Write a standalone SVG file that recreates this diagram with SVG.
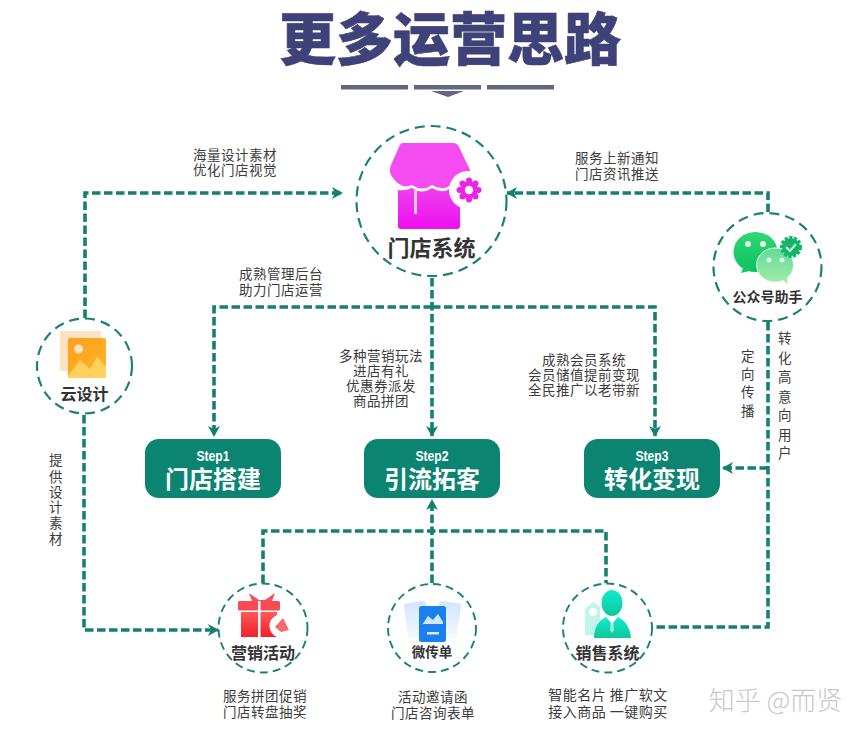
<svg xmlns="http://www.w3.org/2000/svg" width="865" height="736" viewBox="0 0 865 736">
<style>
text{font-family:"Noto Sans CJK SC","Noto Sans",sans-serif;fill:#3c3c3c}
.lb{font-size:13.5px;text-anchor:middle;letter-spacing:.5px}
.nm{font-weight:700;text-anchor:middle;fill:#333}
.ring{fill:#fff;stroke:#1c8270;stroke-width:2.2;stroke-dasharray:10 6}
.ring2{fill:#fff;stroke:#1c8270;stroke-width:1.9;stroke-dasharray:8 5}
.cn{fill:none;stroke:#158070;stroke-width:3.6;stroke-dasharray:8.5 3.5}
.box{fill:#0b8471}
.st{font-family:"Liberation Sans",sans-serif;font-weight:700;font-size:15px;fill:#fff;text-anchor:middle}
.bt{font-weight:700;font-size:24px;fill:#fff;text-anchor:middle}
</style>
<defs>
<marker id="a" markerUnits="userSpaceOnUse" markerWidth="14" markerHeight="14" refX="10" refY="6" orient="auto"><path d="M0 0L11 6L0 12L3 6Z" fill="#158070"/></marker>
<linearGradient id="gm" x1="0" y1="0" x2="0" y2="1"><stop offset="0" stop-color="#f040ee"/><stop offset="1" stop-color="#ee0ff0"/></linearGradient>
<linearGradient id="gg" x1="0" y1="0" x2="0" y2="1"><stop offset="0" stop-color="#2fd874"/><stop offset="1" stop-color="#0cc060"/></linearGradient>
<linearGradient id="gg2" x1="0" y1="0" x2="0" y2="1"><stop offset="0" stop-color="#5fdc96"/><stop offset="1" stop-color="#a0eaa8"/></linearGradient>
<linearGradient id="gt" x1="0" y1="0" x2="0" y2="1"><stop offset="0" stop-color="#10eccf"/><stop offset="1" stop-color="#10c79a"/></linearGradient>
<linearGradient id="go" x1="0" y1="0" x2="1" y2="1"><stop offset="0" stop-color="#ff9f1a"/><stop offset="1" stop-color="#ffb52e"/></linearGradient>
<linearGradient id="gr" x1="0" y1="0" x2="0" y2="1"><stop offset="0" stop-color="#fb5a5c"/><stop offset="1" stop-color="#f3202c"/></linearGradient>
<linearGradient id="gb" x1="0" y1="0" x2="0" y2="1"><stop offset="0" stop-color="#d4e6fb"/><stop offset="1" stop-color="#f4f9fe"/></linearGradient>
</defs>
<rect width="865" height="736" fill="#fff"/>
<g id="title">
<text x="450" y="60" text-anchor="middle" font-size="57" font-weight="900" style="fill:#3f4279;stroke:#3f4279;stroke-width:.6">更多运营思路</text>
<rect x="341" y="85" width="67" height="4.500" fill="#62667f"/>
<rect x="414" y="85" width="67" height="4.500" fill="#62667f"/>
<rect x="487" y="85" width="67" height="4.500" fill="#62667f"/>
<path d="M431 91H464L448 97Z" fill="#62667f"/>
</g>
<g id="connectors">
<path class="cn" d="M85 318V193H342" marker-end="url(#a)"/>
<path class="cn" d="M768 212V193H507" marker-end="url(#a)"/>
<path class="cn" d="M432 278V436" marker-end="url(#a)"/>
<path class="cn" d="M432 307H214V436" marker-end="url(#a)"/>
<path class="cn" d="M432 307H655V436" marker-end="url(#a)"/>
<path class="cn" d="M84 415V630H218" marker-end="url(#a)"/>
<path class="cn" d="M768 322V627H652"/>
<path class="cn" d="M768 468H723" marker-end="url(#a)"/>
<path class="cn" d="M263 583V531H606V583"/>
<path class="cn" d="M432 583V500" marker-end="url(#a)"/>
</g>
<g id="store">
<circle class="ring" cx="431.500" cy="201" r="75"/>
<path d="M403 143H453Q457 143 459 147L470 170V181Q460 190 452 184Q443 192 432 185Q422 192 412 185Q402 190 393 178Q388 172 391 165L399 147Q400 143 403 143Z" fill="#f44cf0"/>
<path d="M398 190Q406 191 412 188Q422 195 432 188Q443 195 452 187L460 190V226Q460 229 457 229H401Q398 229 398 226Z" fill="url(#gm)"/>
<rect x="414" y="190" width="3" height="24" fill="#fbc8f8"/>
<circle cx="468" cy="190" r="19" fill="#fff"/>
<g fill="#ee22e8"><circle cx="469" cy="190" r="9"/><circle cx="469" cy="180.500" r="3"/><circle cx="469" cy="199.500" r="3"/><circle cx="459.500" cy="190" r="3"/><circle cx="478.500" cy="190" r="3"/><circle cx="462.500" cy="183.500" r="3"/><circle cx="475.500" cy="183.500" r="3"/><circle cx="462.500" cy="196.500" r="3"/><circle cx="475.500" cy="196.500" r="3"/></g>
<circle cx="469" cy="190" r="4.200" fill="#fff"/>
<text class="nm" x="431.500" y="256" font-size="22">门店系统</text>
</g>
<g id="gzh">
<circle class="ring" cx="767.500" cy="267" r="54"/>
<ellipse cx="755.500" cy="252" rx="22" ry="20" fill="url(#gg)"/>
<path d="M744 266L741 273L754 270Z" fill="#16c665"/>
<ellipse cx="775" cy="265" rx="18.500" ry="17" fill="url(#gg2)" stroke="#e4f8ea" stroke-width="1"/>
<path d="M782 279L788 284L786 274Z" fill="#9de9a8"/>
<circle cx="748" cy="244" r="3" fill="#dff8e8"/><circle cx="763" cy="244" r="3" fill="#dff8e8"/>
<circle cx="769" cy="260" r="2.500" fill="#dff8e8"/><circle cx="782" cy="260" r="2.500" fill="#dff8e8"/>
<circle cx="791" cy="247" r="9" fill="#12b666" stroke="#12b666" stroke-width="4" stroke-dasharray="3 1.500"/>
<path d="M786 247L790 251L796 244" fill="none" stroke="#d8f5e0" stroke-width="2"/>
<text class="nm" x="767.500" y="302" font-size="14">公众号助手</text>
</g>
<g id="yun">
<circle class="ring" cx="84.500" cy="366" r="47.500"/>
<rect x="60" y="331" width="41" height="40" fill="#fde3c4"/>
<rect x="68" y="338" width="38" height="40" rx="2" fill="url(#go)"/>
<circle cx="78.500" cy="349" r="4.500" fill="#fde3c4"/>
<path d="M68 376L80 360L90 369L97 357L106 367V376Q106 378 104 378H70Q68 378 68 376Z" fill="#ffd15c"/>
<text class="nm" x="84.500" y="400" font-size="16">云设计</text>
</g>
<g id="step1"><rect class="box" x="145" y="439" width="136" height="59" rx="14"/><text class="st" x="213" y="461" textLength="33" lengthAdjust="spacingAndGlyphs">Step1</text><text class="bt" x="213" y="488">门店搭建</text></g>
<g id="step2"><rect class="box" x="364" y="439" width="136" height="59" rx="14"/><text class="st" x="432" y="461" textLength="33" lengthAdjust="spacingAndGlyphs">Step2</text><text class="bt" x="432" y="488">引流拓客</text></g>
<g id="step3"><rect class="box" x="584" y="439" width="136" height="59" rx="14"/><text class="st" x="652" y="461" textLength="33" lengthAdjust="spacingAndGlyphs">Step3</text><text class="bt" x="652" y="488">转化变现</text></g>
<g id="yingxiao">
<circle class="ring2" cx="263" cy="628" r="44.500"/>
<path d="M249 593L259 600H265L275 593L272 601H252Z" fill="#f5505a"/>
<rect x="238" y="601" width="42" height="9.500" rx="1.500" fill="#fa4b52"/>
<path d="M241 612H277V637H241Z" fill="url(#gr)"/>
<rect x="258" y="601" width="2.500" height="36" fill="#fff"/>
<circle cx="281" cy="626" r="11.500" fill="#fff"/>
<path d="M275 627L283 618L289 630L281 632Z" fill="#f66a6a"/>
<text class="nm" x="263" y="659" font-size="16">营销活动</text>
</g>
<g id="weichuan">
<circle class="ring2" cx="432" cy="628" r="44"/>
<rect x="406" y="602" width="22" height="36" rx="2" fill="url(#gb)" transform="rotate(-8 417 620)"/>
<rect x="437" y="602" width="22" height="36" rx="2" fill="url(#gb)" transform="rotate(8 448 620)"/>
<rect x="419" y="606" width="27" height="36" rx="2.500" fill="#1a80f0"/>
<path d="M422 625L428 616L433 620L438 614L443 622V624H422Z" fill="#cfe6fc"/>
<rect x="427" y="632" width="12" height="2.500" fill="#dbeafd"/>
<text class="nm" x="432" y="657" font-size="13.500">微传单</text>
</g>
<g id="xiaoshou">
<circle class="ring2" cx="607.500" cy="628" r="44.500"/>
<path d="M585 609L593 602L600 607V635H585Z" fill="#bdf5e6"/>
<circle cx="593" cy="612" r="4" fill="#fff"/>
<ellipse cx="612" cy="603" rx="10.500" ry="13" fill="url(#gt)"/>
<path d="M594 638Q594 623 606 617L612 624L618 617Q630 623 631 638Z" fill="url(#gt)"/>
<path d="M611 620H613L614 630L612 633L610 630Z" fill="#fff" opacity=".6"/>
<text class="nm" x="607.500" y="659" font-size="16">销售系统</text>
</g>
<g id="labels">
<text class="lb" x="235" y="160">海量设计素材</text><text class="lb" x="235" y="175">优化门店视觉</text>
<text class="lb" x="617" y="163">服务上新通知</text><text class="lb" x="617" y="179">门店资讯推送</text>
<text class="lb" x="281" y="279">成熟管理后台</text><text class="lb" x="281" y="295">助力门店运营</text>
<text class="lb" x="381" y="361">多种营销玩法</text><text class="lb" x="381" y="376">进店有礼</text><text class="lb" x="381" y="391">优惠券派发</text><text class="lb" x="381" y="406">商品拼团</text>
<text class="lb" x="584" y="365">成熟会员系统</text><text class="lb" x="584" y="380">会员储值提前变现</text><text class="lb" x="584" y="395">全民推广以老带新</text>
<text class="lb"><tspan x="748" y="361">定</tspan><tspan x="748" y="379">向</tspan><tspan x="748" y="397">传</tspan><tspan x="748" y="416">播</tspan></text>
<text class="lb"><tspan x="785" y="343">转</tspan><tspan x="785" y="363">化</tspan><tspan x="785" y="382">高</tspan><tspan x="785" y="402">意</tspan><tspan x="785" y="420">向</tspan><tspan x="785" y="440">用</tspan><tspan x="785" y="458">户</tspan></text>
<text class="lb"><tspan x="56" y="465">提</tspan><tspan x="56" y="482">供</tspan><tspan x="56" y="497">设</tspan><tspan x="56" y="512">计</tspan><tspan x="56" y="528">素</tspan><tspan x="56" y="544">材</tspan></text>
<text class="lb" x="265" y="701">服务拼团促销</text><text class="lb" x="265" y="717">门店转盘抽奖</text>
<text class="lb" x="433" y="702">活动邀请函</text><text class="lb" x="433" y="718">门店咨询表单</text>
<text class="lb" x="608" y="700" style="font-size:14px">智能名片 推广软文</text><text class="lb" x="608" y="717" style="font-size:14px">接入商品 一键购买</text>
</g>
<text x="775.500" y="710" text-anchor="middle" font-size="26" font-weight="300" style="fill:#c9c9c9">知乎 @而贤</text>
</svg>
